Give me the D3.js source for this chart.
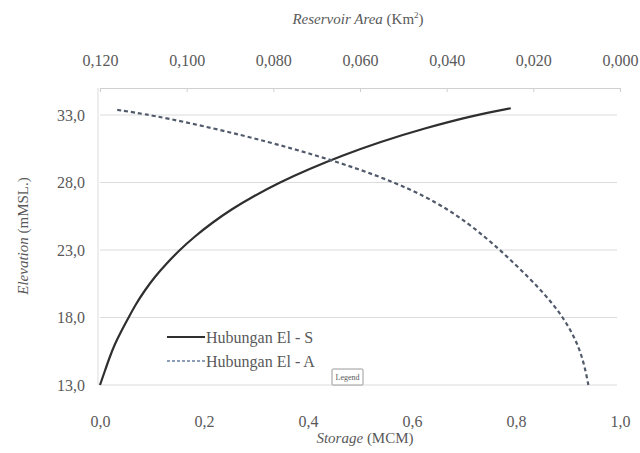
<!DOCTYPE html>
<html>
<head>
<meta charset="utf-8">
<script src="https://cdn.jsdelivr.net/npm/d3@7"></script>
<style>
  html, body { margin: 0; padding: 0; background: #fff; }
  svg { display: block; }
  text { font-family: "Liberation Serif", "Times New Roman", serif; fill: #595959; }
</style>
</head>
<body>
<svg id="chart" width="640" height="453"></svg>
<script>
// ---- Data ----
// Elevation levels (mMSL)
const elevations = [13, 14, 15, 16, 17, 18, 19, 20, 21, 22, 23, 24, 25, 26, 27, 28, 29, 30, 31, 32, 33, 33.5];
// Storage at each elevation (MCM)
const storageValues = [0.000, 0.009, 0.018, 0.028, 0.041, 0.055, 0.069, 0.086, 0.105, 0.128, 0.153, 0.182,
                       0.215, 0.252, 0.296, 0.345, 0.402, 0.466, 0.538, 0.622, 0.722, 0.790];
// Area elevations (mMSL) and reservoir area (Km²)
const areaElev   = [13, 14, 15, 16, 17, 18, 19, 20, 21, 22, 23, 24, 25, 26, 27, 28, 29, 30, 31, 32, 33, 33.4];
const areaValues = [0.0073, 0.0079, 0.0087, 0.0098, 0.0113, 0.0132, 0.0155, 0.0182, 0.0212, 0.0244, 0.0277, 0.0313,
                    0.0352, 0.0397, 0.0452, 0.0520, 0.0603, 0.0700, 0.0810, 0.0935, 0.1080, 0.1165];

const elevTicks    = [13, 18, 23, 28, 33];
const storageTicks = [0, 0.2, 0.4, 0.6, 0.8, 1.0];
const areaTicks    = [0.12, 0.10, 0.08, 0.06, 0.04, 0.02, 0.0];
const seriesNames  = ["Hubungan El - S", "Hubungan El - A"];

// ---- Layout ----
const svg = d3.select("#chart");
const mLeft = 100, mRight = 620, mTop = 88, mBottom = 385;

const x = d3.scaleLinear().domain([0, 1.0]).range([mLeft, mRight]);
const xTop = d3.scaleLinear().domain([0.12, 0.0]).range([mLeft, mRight]);
const y = d3.scaleLinear().domain([13, 35]).range([mBottom, mTop]);

const comma = (d, n) => d3.format("." + n + "f")(d).replace(".", ",");

// gridlines
svg.append("g").selectAll("line").data(elevTicks).join("line")
  .attr("x1", mLeft).attr("x2", mRight - 3)
  .attr("y1", d => y(d)).attr("y2", d => y(d))
  .attr("stroke", "#dcdcdc").attr("stroke-width", 1.2);

// left axis line
svg.append("line").attr("x1", mLeft - 2).attr("x2", mLeft - 2).attr("y1", mTop).attr("y2", mBottom)
  .attr("stroke", "#e2e2e2").attr("stroke-width", 1.2);

// top axis (secondary, reversed)
const topAxis = svg.append("g").attr("transform", `translate(0,${mTop})`)
  .call(d3.axisTop(xTop).tickValues(areaTicks).tickSize(-4).tickFormat(d => comma(d, 3)));
topAxis.select(".domain").attr("stroke", "#d0d0d0").attr("stroke-width", 1.2);
topAxis.selectAll(".tick line").attr("stroke", "#d0d0d0");
topAxis.selectAll(".tick text").attr("y", -22).attr("font-size", 16)
  .style("font-family", "'Liberation Serif', serif").attr("fill", "#595959");

// bottom axis
const botAxis = svg.append("g").attr("transform", `translate(0,${mBottom})`)
  .call(d3.axisBottom(x).tickValues(storageTicks).tickSize(0).tickFormat(d => comma(d, 1)));
botAxis.select(".domain").remove();
botAxis.selectAll(".tick text").attr("y", 31).attr("font-size", 16)
  .style("font-family", "'Liberation Serif', serif").attr("fill", "#595959");

// left axis labels
const leftAxis = svg.append("g").attr("transform", `translate(${mLeft},0)`)
  .call(d3.axisLeft(y).tickValues(elevTicks).tickSize(0).tickFormat(d => comma(d, 1)));
leftAxis.select(".domain").remove();
leftAxis.selectAll(".tick text").attr("x", -15).attr("font-size", 16)
  .style("font-family", "'Liberation Serif', serif").attr("fill", "#595959");

// axis titles
const tTop = svg.append("text").attr("x", 358).attr("y", 24).attr("text-anchor", "middle").attr("font-size", 15);
tTop.append("tspan").attr("font-style", "italic").text("Reservoir Area");
tTop.append("tspan").text(" (Km");
tTop.append("tspan").attr("font-size", 9).attr("dy", -6).text("2");
tTop.append("tspan").attr("dy", 6).text(")");

const tBot = svg.append("text").attr("x", 365).attr("y", 443).attr("text-anchor", "middle").attr("font-size", 15);
tBot.append("tspan").attr("font-style", "italic").text("Storage");
tBot.append("tspan").text(" (MCM)");

const tLeft = svg.append("text").attr("transform", "translate(28,236) rotate(-90)")
  .attr("text-anchor", "middle").attr("font-size", 15);
tLeft.append("tspan").attr("font-style", "italic").text("Elevation");
tLeft.append("tspan").text(" (mMSL.)");

// series
const sData = storageValues.map((v, i) => ({ v, e: elevations[i] }));
const aData = areaValues.map((v, i) => ({ v, e: areaElev[i] }));

svg.append("path").datum(sData)
  .attr("fill", "none").attr("stroke", "#2f2f2f").attr("stroke-width", 2.2)
  .attr("d", d3.line().x(d => x(d.v)).y(d => y(d.e)).curve(d3.curveBasis));

svg.append("path").datum(aData)
  .attr("fill", "none").attr("stroke", "#515a6a").attr("stroke-width", 2.2)
  .attr("stroke-dasharray", "4,3")
  .attr("d", d3.line().x(d => xTop(d.v)).y(d => y(d.e)).curve(d3.curveBasis));

// legend
const lg = svg.append("g");
lg.append("line").attr("x1", 167).attr("x2", 205).attr("y1", 337).attr("y2", 337)
  .attr("stroke", "#2f2f2f").attr("stroke-width", 2.2);
lg.append("text").attr("x", 206).attr("y", 343).attr("font-size", 16).text(seriesNames[0]);
lg.append("line").attr("x1", 167).attr("x2", 205).attr("y1", 361).attr("y2", 361)
  .attr("stroke", "#6a7fa3").attr("stroke-width", 1.5).attr("stroke-dasharray", "3,2");
lg.append("text").attr("x", 206).attr("y", 367).attr("font-size", 16).text(seriesNames[1]);

// "Legend" tooltip box
lg.append("rect").attr("x", 332).attr("y", 369).attr("width", 31).attr("height", 16)
  .attr("fill", "#fff").attr("stroke", "#9a9a9a").attr("stroke-width", 1).attr("rx", 1);
lg.append("text").attr("x", 347.5).attr("y", 380).attr("text-anchor", "middle")
  .attr("font-size", 8).text("Legend");
</script>
</body>
</html>
